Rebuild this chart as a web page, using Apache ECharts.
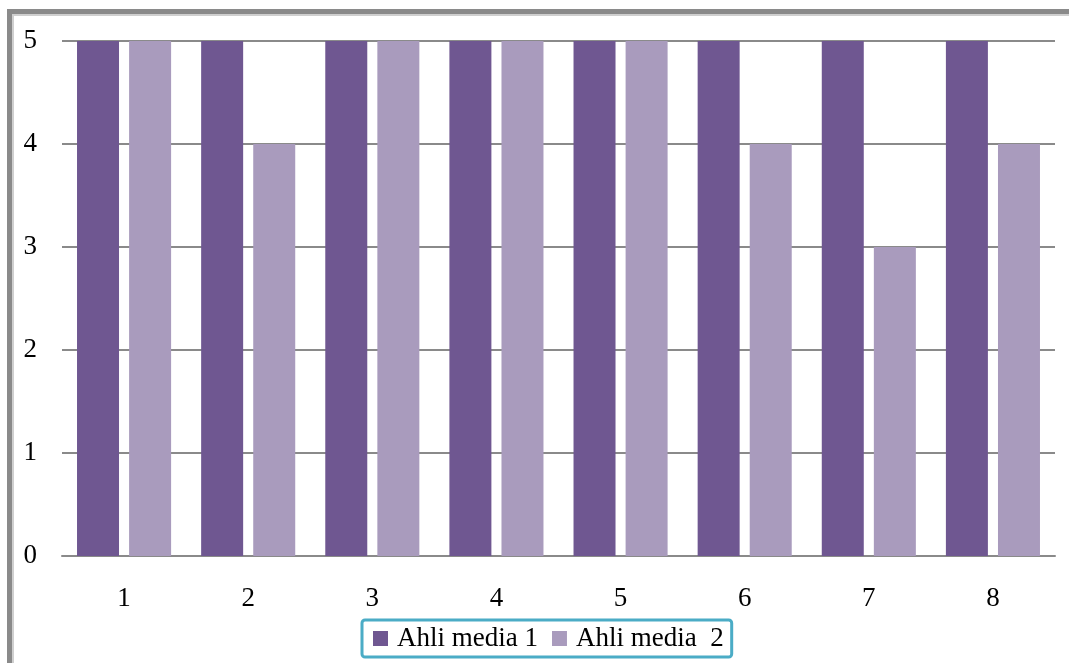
<!DOCTYPE html>
<html><head><meta charset="utf-8">
<script src="https://cdn.jsdelivr.net/npm/echarts@6/dist/echarts.min.js"></script>
<style>html,body{margin:0;padding:0;background:#fff}#c{width:1069px;height:663px}</style>
</head><body><div id="c"></div>
<script>
const categories = ['1','2','3','4','5','6','7','8'];
const media1 = [5,5,5,5,5,5,5,5];
const media2 = [5,4,5,5,5,4,3,4];
const seriesNames = ['Ahli media 1','Ahli media  2'];
const chart = echarts.init(document.getElementById('c'));
const font = '"Liberation Serif", "Times New Roman", serif';
chart.setOption({
  animation:false,
  graphic:[
    {type:'rect',shape:{x:7,y:9,width:1070,height:5},style:{fill:'#8a8a8a'}},
    {type:'rect',shape:{x:7,y:9,width:5,height:660},style:{fill:'#8a8a8a'}},
    {type:'rect',shape:{x:12,y:14,width:1060,height:2},style:{fill:'#cfcfcf'}},
    {type:'rect',shape:{x:12,y:14,width:2,height:660},style:{fill:'#cfcfcf'}}
  ],
  grid:{left:62,right:14,top:41,bottom:107,containLabel:false},
  legend:{
    bottom:6,left:362,
    itemWidth:15,itemHeight:15,itemGap:14,
    icon:'rect',
    padding:[5,8,5,11],
    borderColor:'#4BACC6',borderWidth:3,borderRadius:3,
    textStyle:{fontFamily:font,fontSize:27,color:'#000',padding:[0,0,0,4]},
    data:seriesNames
  },
  xAxis:{
    type:'category',data:categories,
    axisLine:{lineStyle:{color:'#8a8a8a',width:2}},
    axisTick:{show:false},
    axisLabel:{fontFamily:font,fontSize:27,color:'#000',margin:29}
  },
  yAxis:{
    type:'value',min:0,max:5,interval:1,
    axisLine:{show:false},axisTick:{show:false},
    splitLine:{lineStyle:{color:'#8a8a8a',width:2}},
    axisLabel:{fontFamily:font,fontSize:27,color:'#000',margin:25,align:'right'}
  },
  series:[
    {name:seriesNames[0],type:'bar',data:media1,barWidth:42,barGap:'24%',itemStyle:{color:'#6F5791'}},
    {name:seriesNames[1],type:'bar',data:media2,barWidth:42,itemStyle:{color:'#A99BBD'}}
  ]
});
</script></body></html>
